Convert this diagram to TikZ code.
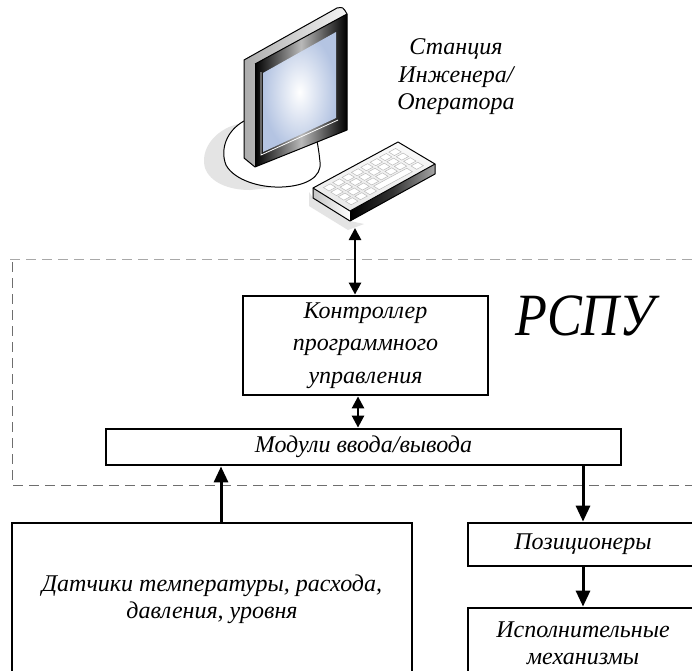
\documentclass[tikz,border=0pt]{standalone}
\usepackage{fontspec}
\setmainfont{Liberation Serif}
\newfontfamily\titlefont{Liberation Serif}[FakeStretch=0.87]
\usetikzlibrary{arrows.meta,calc}
\definecolor{framelight}{HTML}{A8A8A8}
\definecolor{framedark}{HTML}{6E6E6E}
\definecolor{screenblue}{HTML}{B4C4E2}
\definecolor{shadowgray}{HTML}{E4E4E4}

\begin{document}
\begin{tikzpicture}[x=1pt,y=-1pt,
  box/.style={draw, line width=2.8pt, rectangle, inner sep=0pt, align=center,
    font=\fontsize{24}{27}\selectfont\itshape},
  link/.style={line width=3pt, -{Triangle[length=16pt,width=14pt]}},
  twoway/.style={line width=2.6pt,
    {Triangle[length=12pt,width=12pt]}-{Triangle[length=12pt,width=12pt]}},
  frameline/.style={line width=1pt, dash pattern=on 10pt off 6pt},
  caption/.style={align=center, font=\fontsize{24}{27.5}\selectfont\itshape},
  outline/.style={draw=black, line width=1pt, line join=round},
  keycap/.style={fill=white, draw=gray!55, line width=0.5pt},
]
\useasboundingbox (0,0) rectangle (692,670);
\clip (0,0) rectangle (692,670);
\fill[white] (0,0) rectangle (692,670);

% ---------- workstation: monitor on its stand ----------
\fill[shadowgray] (238,124) .. controls (214,130) and (200,150) .. (205,168)
  .. controls (210,182) and (228,190) .. (250,190) -- (270,188) -- (240,150) -- cycle;
\filldraw[fill=white, outline] (244,121) .. controls (226,131) and (220,150) .. (226,165)
  .. controls (234,180) and (260,188) .. (282,187)
  .. controls (306,186) and (322,177) .. (320,162)
  .. controls (319,152) and (318,146) .. (317,141);
% housing side
\shade[left color=gray!65, right color=gray!8]
  (244,60) -- (337,8) .. controls (343,7) .. (347,14) -- (255,64) -- (255,167) -- (244,158) -- cycle;
% bezel
\shade[left color=black, right color=black, middle color=gray!55]
  (255,64) -- (347,14) -- (347,130) -- (255,167) -- cycle;
% screen
\shade[inner color=white, outer color=screenblue]
  (263,73) -- (336,32) -- (336,118) -- (263,152) -- cycle;
\draw[white, line width=0.8pt] (261,72) -- (261,155) -- (338,120);
\draw[outline] (244,60) -- (337,8) .. controls (343,7) .. (347,14) -- (347,130)
  -- (255,167) -- (244,158) -- cycle;
\draw[outline] (255,64) -- (347,14);
\draw[outline] (255,64) -- (255,167);

% ---------- keyboard ----------
\fill[shadowgray] (309,192) -- (309,206) -- (348,230) -- (364,224) -- (350,221) -- (313,198) -- cycle;
\shade[left color=gray!45, right color=white]
  (313,188) -- (350,211) -- (350,221) -- (313,198) -- cycle;
\shade[left color=black, right color=gray!70, middle color=gray!40!black]
  (350,211) -- (435,164) -- (435,174) -- (350,221) -- cycle;
\shade[top color=gray!4, bottom color=gray!18]
  (313,188) -- (398,142) -- (435,164) -- (350,211) -- cycle;
\draw[outline] (313,188) -- (398,142) -- (435,164) -- (435,174) -- (350,221) -- (313,198) -- cycle;
\draw[outline] (313,188) -- (350,211) -- (435,164);
\draw[outline] (350,211) -- (350,221);
\begin{scope}[shift={(313,188)}, x={(85pt,46pt)}, y={(37pt,-23pt)}]
  \foreach \i in {0,...,7} {
    \foreach \j in {0,1,2} {
      \path[keycap] ({0.07+\i*0.11},{0.12+\j*0.2}) -- ++(0.08,0) -- ++(0,0.15) -- ++(-0.08,0) -- cycle;
    }
  }
  \foreach \i in {0,1,2,7} {
    \path[keycap] ({0.07+\i*0.11},0.72) -- ++(0.08,0) -- ++(0,0.15) -- ++(-0.08,0) -- cycle;
  }
  \path[keycap] (0.40,0.72) -- (0.79,0.72) -- (0.79,0.87) -- (0.40,0.87) -- cycle;
\end{scope}

\node[caption] (station) at (456,77) {Станция\\Инженера/\\Оператора};

% ---------- controller cabinet boundary ----------
\draw[frameline, framelight] (10,259) -- (700,259);
\draw[frameline, framedark] (12,262) -- (12,485) -- (700,485);
\node[font=\titlefont\fontsize{60}{64}\selectfont\itshape] (rspu) at (585,316) {РСПУ};

% ---------- blocks ----------
\node[box, minimum width=245pt, minimum height=99pt, font=\fontsize{24}{32.5}\selectfont\itshape]
  (ctrl) at (365.5,345.5) {Контроллер\\программного\\управления};
\node[box, minimum width=515pt, minimum height=36pt] (mods) at (363.5,447)
  {Модули ввода/вывода};
\node[box, minimum width=400pt, minimum height=152pt, font=\fontsize{24}{27.5}\selectfont\itshape]
  (sens) at (212,599) {Датчики температуры, расхода,\\давления, уровня};
\node[box, minimum width=230pt, minimum height=43pt] (pos) at (583,544.5)
  {Позиционеры};
\node[box, minimum width=230pt, minimum height=70pt] (exec) at (583,643)
  {Исполнительные\\механизмы};

% ---------- connections ----------
\coordinate (kbport) at (355,228);
\draw[twoway] (kbport) -- (kbport |- ctrl.north);
\draw[twoway] ([xshift=-7.5pt]ctrl.south) -- ([xshift=-7.5pt]ctrl.south |- mods.north);
\draw[link] ([xshift=9pt]sens.north) -- ([xshift=9pt]sens.north |- mods.south);
\draw[link] (pos.north |- mods.south) -- (pos.north);
\draw[link] (pos.south) -- (exec.north);
\end{tikzpicture}
\end{document}
